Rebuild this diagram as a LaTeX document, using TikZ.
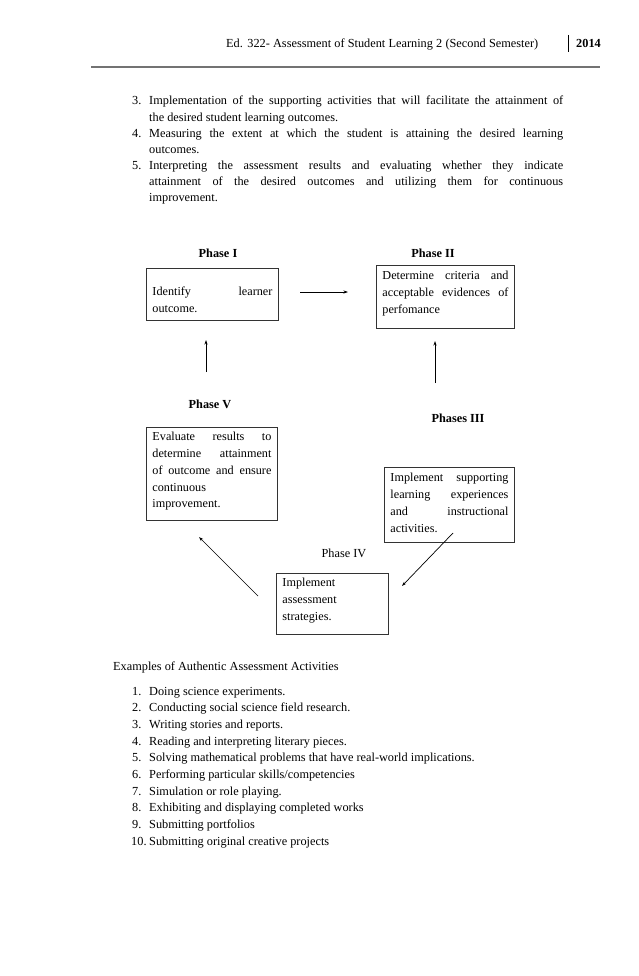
\documentclass[tikz,border=0pt]{standalone}
\usepackage{fontspec}
\setmainfont{Liberation Serif}
\usetikzlibrary{arrows.meta}
\newcommand{\jl}[2]{\makebox[#1pt][s]{#2}}
\newcommand{\bxt}[4]{\parbox[t][#2pt][t]{#1pt}{\fontsize{12.2}{16.8}\selectfont\vspace*{#3pt}\leftskip=6pt\rightskip=0pt\parindent=0pt #4}}
\begin{document}
\begin{tikzpicture}[x=1pt,y=-1pt,
  every node/.style={inner sep=0pt, font=\fontsize{12.3}{16}\selectfont},
  txt/.style={anchor=base west},
  lbl/.style={anchor=base, font=\fontsize{12.3}{16}\selectfont\bfseries},
  plbl/.style={anchor=base, font=\fontsize{12.3}{16}\selectfont},
  phbox/.style={draw=black!80, line width=0.9pt, anchor=north west, inner sep=0pt},
  arr/.style={-{Stealth[length=4.5pt,width=3pt]}, line width=0.7pt}]
\useasboundingbox[fill=white] (0,0) rectangle (638,976);

% header
\node[txt] (hd) at (226,48) {\jl{312}{Ed. 322- Assessment of Student Learning 2 (Second Semester)}};
\node[txt, font=\fontsize{12.3}{16}\selectfont\bfseries] (yr) at (576,48) {2014};
\draw[line width=0.6pt] (568,35) -- (568,52);
\draw[black!55, line width=1.6pt] (91,67) -- (600,67);

% top list
\node[txt] (n3) at (132,105) {3.};
\node[txt] (t31) at (149,105) {\jl{414}{Implementation of the supporting activities that will facilitate the attainment of}};
\node[txt] (t32) at (149,121.1) {the desired student learning outcomes.};
\node[txt] (n4) at (132,137.2) {4.};
\node[txt] (t41) at (149,137.2) {\jl{414}{Measuring the extent at which the student is attaining the desired learning}};
\node[txt] (t42) at (149,153.3) {outcomes.};
\node[txt] (n5) at (132,169.4) {5.};
\node[txt] (t51) at (149,169.4) {\jl{414}{Interpreting the assessment results and evaluating whether they indicate}};
\node[txt] (t52) at (149,185.5) {\jl{414}{attainment of the desired outcomes and utilizing them for continuous}};
\node[txt] (t53) at (149,201.6) {improvement.};

% diagram
\node[lbl] (l1) at (218,258) {Phase I};
\node[lbl] (l2) at (433,258) {Phase II};
\node[lbl] (l5) at (210,408) {Phase V};
\node[lbl] (l3) at (458,422) {Phases III};
\node[plbl] (l4) at (344,557) {Phase IV};

\node[phbox] (p1) at (146,268) {\bxt{132}{52}{18.7}{\jl{120}{Identify learner}\\outcome.}};
\node[phbox] (p2) at (376,265) {\bxt{138}{63}{5.7}{\jl{126}{Determine criteria and}\\\jl{126}{acceptable evidences of}\\perfomance}};
\node[phbox] (p5) at (146,427) {\bxt{131}{93}{4.7}{\jl{119}{Evaluate results to}\\\jl{119}{determine attainment}\\\jl{119}{of outcome and ensure}\\continuous\\improvement.}};
\node[phbox] (p3) at (384,467) {\bxt{130}{75}{5.7}{\jl{118}{Implement supporting}\\\jl{118}{learning experiences}\\\jl{118}{and instructional}\\activities.}};
\node[phbox] (p4) at (276,573) {\bxt{112}{61}{4.7}{Implement\\assessment\\strategies.}};

\coordinate (a12s) at (300,292);
\coordinate (a12e) at (348,292);
\coordinate (a51s) at (206,372);
\coordinate (a51e) at (206,340);
\coordinate (a32s) at (435,383);
\coordinate (a32e) at (435,341);
\coordinate (a34s) at (453,533);
\coordinate (a34e) at (402,586);
\coordinate (a45s) at (258,596);
\coordinate (a45e) at (199,537);
\draw[arr] (a12s) -- (a12e);
\draw[arr] (a51s) -- (a51e);
\draw[arr] (a32s) -- (a32e);
\draw[arr] (a34s) -- (a34e);
\draw[arr] (a45s) -- (a45e);

% bottom list
\node[txt] (ex) at (113,670) {Examples of Authentic Assessment Activities};
\node[txt] (e1n) at (132,695) {1.};  \node[txt] (e1) at (149,695) {Doing science experiments.};
\node[txt] (e2n) at (132,711.7) {2.};  \node[txt] (e2) at (149,711.7) {Conducting social science field research.};
\node[txt] (e3n) at (132,728.4) {3.};  \node[txt] (e3) at (149,728.4) {Writing stories and reports.};
\node[txt] (e4n) at (132,745.1) {4.};  \node[txt] (e4) at (149,745.1) {Reading and interpreting literary pieces.};
\node[txt] (e5n) at (132,761.8) {5.};  \node[txt] (e5) at (149,761.8) {Solving mathematical problems that have real-world implications.};
\node[txt] (e6n) at (132,778.5) {6.};  \node[txt] (e6) at (149,778.5) {Performing particular skills/competencies};
\node[txt] (e7n) at (132,795.2) {7.};  \node[txt] (e7) at (149,795.2) {Simulation or role playing.};
\node[txt] (e8n) at (132,811.9) {8.};  \node[txt] (e8) at (149,811.9) {Exhibiting and displaying completed works};
\node[txt] (e9n) at (132,828.6) {9.};  \node[txt] (e9) at (149,828.6) {Submitting portfolios};
\node[txt] (e10n) at (131,845.3) {10.}; \node[txt] (e10) at (149,845.3) {Submitting original creative projects};
\end{tikzpicture}
\end{document}
